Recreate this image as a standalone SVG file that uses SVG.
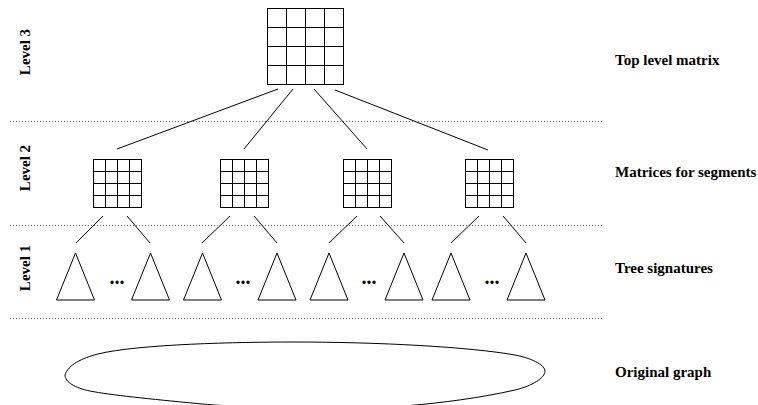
<svg xmlns="http://www.w3.org/2000/svg" width="758" height="405" viewBox="0 0 758 405">
<defs>
<style>
.lbl{font-family:"Liberation Serif","Times New Roman",serif;font-weight:bold;font-size:15px;fill:#000}
.dots{font-family:"Liberation Serif","Times New Roman",serif;font-weight:bold;font-size:20px;fill:#000}
.sep{stroke:#666;stroke-width:1;stroke-dasharray:1 2;fill:none}
.ln{stroke:#000;stroke-width:1;fill:none}
.box{stroke:#000;stroke-width:1;fill:#fff}
.tri{stroke:#000;stroke-width:1;fill:#fff;stroke-linejoin:miter}
</style>
<g id="m16">
<rect class="box" x="0" y="0" width="48" height="48"/>
<path class="ln" d="M12,0V48M24,0V48M36,0V48M0,12H48M0,24H48M0,36H48"/>
</g>
<g id="tri">
<polygon class="tri" points="19,0 38,47 0,47"/>
</g>
</defs>
<rect width="758" height="405" fill="#fff"/>

<g id="separators">
<line class="sep" x1="10" y1="121.5" x2="602" y2="121.5"/>
<line class="sep" x1="10" y1="225.5" x2="602" y2="225.5"/>
<line class="sep" x1="10" y1="318.5" x2="602" y2="318.5"/>
</g>

<g id="level-labels">
<text class="lbl" text-anchor="middle" transform="translate(30,52) rotate(-90)">Level 3</text>
<text class="lbl" text-anchor="middle" transform="translate(30,168) rotate(-90)">Level 2</text>
<text class="lbl" text-anchor="middle" transform="translate(30,268) rotate(-90)">Level 1</text>
</g>

<g id="connectors">
<line class="ln" x1="278" y1="89" x2="117" y2="149"/>
<line class="ln" x1="293" y1="89" x2="244" y2="149"/>
<line class="ln" x1="314" y1="89" x2="367" y2="149"/>
<line class="ln" x1="335" y1="90" x2="488" y2="150"/>
<line class="ln" x1="103" y1="216" x2="76" y2="243"/>
<line class="ln" x1="127" y1="216" x2="150" y2="243"/>
<line class="ln" x1="230" y1="216" x2="202" y2="243"/>
<line class="ln" x1="254" y1="216" x2="277" y2="243"/>
<line class="ln" x1="357" y1="216" x2="329" y2="243"/>
<line class="ln" x1="380" y1="216" x2="404" y2="243"/>
<line class="ln" x1="479" y1="216" x2="451" y2="243"/>
<line class="ln" x1="503" y1="216" x2="526" y2="243"/>
</g>

<g id="top-matrix">
<rect class="box" x="267.5" y="8.5" width="76" height="76"/>
<path class="ln" d="M286.5,8.5V84.5M305.5,8.5V84.5M324.5,8.5V84.5M267.5,27.5H343.5M267.5,46.5H343.5M267.5,65.5H343.5"/>
</g>

<g id="segment-matrix-1"><use href="#m16" x="93.5" y="159.5"/></g>
<g id="segment-matrix-2"><use href="#m16" x="220.5" y="159.5"/></g>
<g id="segment-matrix-3"><use href="#m16" x="343.5" y="159.5"/></g>
<g id="segment-matrix-4"><use href="#m16" x="465.5" y="159.5"/></g>

<g id="trees-1">
<use href="#tri" x="56.5" y="253"/>
<use href="#tri" x="131.5" y="253"/>
<text class="dots" x="117" y="284" text-anchor="middle">...</text>
</g>
<g id="trees-2">
<use href="#tri" x="183.5" y="253"/>
<use href="#tri" x="258" y="253"/>
<text class="dots" x="243" y="284" text-anchor="middle">...</text>
</g>
<g id="trees-3">
<use href="#tri" x="310" y="253"/>
<use href="#tri" x="385" y="253"/>
<text class="dots" x="369" y="284" text-anchor="middle">...</text>
</g>
<g id="trees-4">
<use href="#tri" x="432" y="253"/>
<use href="#tri" x="507" y="253"/>
<text class="dots" x="492" y="284" text-anchor="middle">...</text>
</g>

<g id="original-graph">
<path class="ln" d="M65,375 C68,365 82,358 98,354 C138,344 240,342 293,342 C380,342 470,347 515,355 C535,359 545,366 545,371 C545,378 532,386 515,390 C480,398 440,403 410,405.5 C350,409 250,409 197,403.5 C150,399 110,395 90,391 C75,388 65,382 65,375 Z"/>
</g>

<g id="right-labels">
<text class="lbl" x="615" y="65">Top level matrix</text>
<text class="lbl" x="615" y="177">Matrices for segments</text>
<text class="lbl" x="615" y="273">Tree signatures</text>
<text class="lbl" x="615" y="377">Original graph</text>
</g>
</svg>
